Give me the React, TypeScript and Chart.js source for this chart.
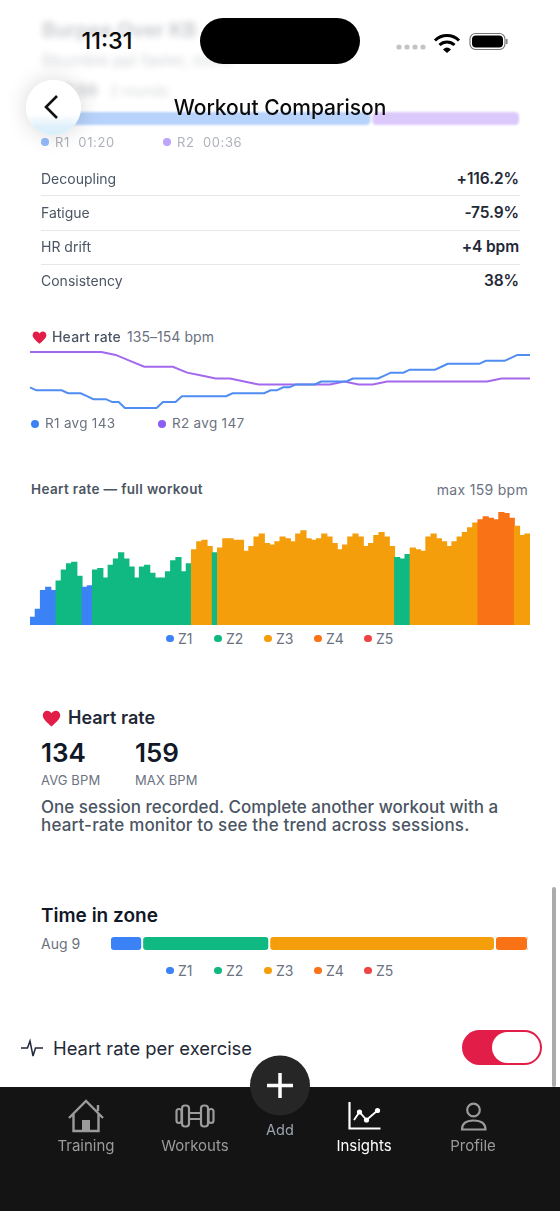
import React, { useEffect, useRef } from "react";
import { Chart, registerables } from "chart.js";

Chart.register(...registerables);

// ---------- data ----------
const r1Hr = [142,141,141,141,141,141,140,140,140,139,138,138,138,137,137,135,135,135,135,135,135,137,137,137,139,139,139,139,139,139,139,139,140,140,140,140,140,140,141,141,142,142,143,143,143,143,144,144,144,144,144,145,145,145,145,145,146,147,147,147,148,148,148,148,148,149,150,150,150,150,150,150,151,151,151,151,152,153,153,153];
const r2Hr = [154,154,154,154,154,154,153,151,149,149,149,147,146,145,145,144,143,143,143,143,143,143,144,143,143,144,144,144,144,144,144,144,144,145,145,145];
const workoutHr = [92,97,109,111,109,115,122,126,127,118,111,112,122,123,117,125,129,133,129,124,117,124,125,120,117,117,121,128,130,121,126,135,140,141,137,133,136,142,142,141,141,134,137,143,145,139,138,140,143,142,140,145,147,142,141,142,145,143,139,135,138,143,145,143,137,139,144,146,143,137,130,129,132,136,135,134,143,145,142,140,137,140,143,146,149,152,154,156,155,154,159,158,155,150,144,145];
const zoneNames = ["Z1","Z2","Z3","Z4","Z5"];
const zoneColors = ["#3b82f6","#10b981","#f59e0b","#f97316","#ef4444"];
const zoneUpperBpm = [114,134,154,172,999];
const timeInZonePct = [7.7,30.4,54,7.9,0];
const sessionLabels = ["Aug 9"];
const roundLabels = ["R1","R2"];
const roundSeconds = [80,36];
const roundBarColors = ["#b7d2fb","#dcc9fb"];
const metricNames = ["Decoupling","Fatigue","HR drift","Consistency"];
const metricValues = ["+116.2%","-75.9%","+4 bpm","38%"];

const FONT = "Inter, 'Noto Sans', sans-serif";

function ChartBox({ left, top, width, height, make, soft }: any) {
  const ref = useRef<HTMLCanvasElement | null>(null);
  useEffect(() => {
    const chart = new Chart(ref.current as HTMLCanvasElement, make());
    return () => chart.destroy();
  }, []);
  return <canvas ref={ref} width={width} height={height} style={{ position: "absolute", left, top, width, height, display: "block", filter: soft ? "blur(0.8px)" : undefined }} />;
}

const baseOptions = {
  animation: false,
  responsive: false,
  maintainAspectRatio: false,
  plugins: { legend: { display: false }, tooltip: { enabled: false } },
  events: [],
};

function T({ x, y, size, weight = 400, color = "#111827", right, center, spacing, children, style }: any) {
  const st: any = {
    position: "absolute", top: y, transform: center ? "translate(-50%,-50%)" : "translateY(-50%)",
    fontSize: size, fontWeight: weight, color, whiteSpace: "nowrap", lineHeight: 1, letterSpacing: spacing, ...style,
  };
  if (right) st.right = 560 - x; else st.left = x;
  return <div style={st}>{children}</div>;
}

function Dot({ x, y, color, r = 4 }: any) {
  return <div style={{ position: "absolute", left: x - r, top: y - r, width: r * 2, height: r * 2, borderRadius: "50%", background: color }} />;
}

function Heart({ x, y, s }: any) {
  return (
    <svg style={{ position: "absolute", left: x - s / 2, top: y - s / 2 }} width={s} height={s} viewBox="0 0 24 24">
      <path d="M12 22 C5 16 1 12.5 1 8 C1 4.5 3.6 2.2 6.6 2.2 C8.8 2.2 10.8 3.4 12 5.4 C13.2 3.4 15.2 2.2 17.4 2.2 C20.4 2.2 23 4.5 23 8 C23 12.5 19 16 12 22 Z" fill="#e11d48" />
    </svg>
  );
}

function ZoneLegend({ y }: any) {
  const xs = [170, 218, 268, 318, 368];
  return (
    <>
      {zoneNames.map((z, i) => (
        <React.Fragment key={z}>
          <Dot x={xs[i]} y={y} color={zoneColors[i]} r={3.7} />
          <T x={xs[i] + 8} y={y} size={14} color="#6b7280">{z}</T>
        </React.Fragment>
      ))}
    </>
  );
}

function zoneColorFor(bpm: number) {
  return zoneColors[zoneUpperBpm.findIndex((u) => bpm < u)];
}

function lineConfig() {
  const toPts = (a: number[]) => a.map((y, i) => ({ x: i / (a.length - 1), y }));
  return {
    type: "line",
    data: {
      datasets: [
        { label: "R1", data: toPts(r1Hr), borderColor: "#4f8df2", borderWidth: 2, pointRadius: 0, tension: 0, clip: false },
        { label: "R2", data: toPts(r2Hr), borderColor: "#a368ee", borderWidth: 2, pointRadius: 0, tension: 0, clip: false },
      ],
    },
    options: {
      ...baseOptions,
      layout: { padding: { left: 10, right: 10, top: 4, bottom: 4 } },
      scales: {
        x: { type: "linear", min: 0, max: 1, display: false },
        y: { min: 135, max: 154, display: false },
      },
    },
  };
}

function workoutConfig() {
  return {
    type: "bar",
    data: {
      labels: workoutHr.map((_, i) => String(i)),
      datasets: [{ data: workoutHr, backgroundColor: workoutHr.map(zoneColorFor), barPercentage: 1, categoryPercentage: 1, borderWidth: 0, inflateAmount: 0.5 }],
    },
    options: {
      ...baseOptions,
      layout: { padding: { top: 1 } },
      scales: { x: { display: false }, y: { min: 87, max: 159, display: false } },
    },
  };
}

function stackedConfig(labels: string[], names: string[], values: number[], colors: string[], r: number) {
  return {
    type: "bar",
    data: {
      labels,
      datasets: names.map((n, i) => ({
        label: n,
        data: [values[i]],
        backgroundColor: colors[i],
        borderColor: "#ffffff",
        borderWidth: { left: 1.3, right: 1.3, top: 0, bottom: 0 },
        borderSkipped: false,
        borderRadius: { topLeft: r, topRight: r, bottomLeft: r, bottomRight: r },
        barPercentage: 1,
        categoryPercentage: 1,
      })),
    },
    options: {
      ...baseOptions,
      indexAxis: "y",
      scales: {
        x: { stacked: true, min: 0, max: values.reduce((a, b) => a + b, 0), display: false },
        y: { stacked: true, display: false },
      },
    },
  };
}

export default function App() {
  useEffect(() => {
    document.body.style.margin = "0";
    document.body.style.background = "#fff";
  }, []);
  const gray = "#9b9b9b";
  return (
    <div style={{ position: "absolute", left: 0, top: 0, width: 560, height: 1211, overflow: "hidden", background: "#fff", fontFamily: FONT, filter: "blur(0.35px)" }}>
      {/* blurred content scrolled under header */}
      <div style={{ position: "absolute", inset: 0, filter: "blur(3px)", opacity: 0.22 }}>
        <T x={42} y={30} size={20} weight={700}>Burpee Over KB</T>
        <T x={42} y={60} size={16} color="#374151">Bbumble ppl faster, more</T>
        <T x={65} y={90} size={16} weight={700}>1:56</T>
        <T x={110} y={91} size={14} color="#374151">2 rounds</T>
      </div>

      <ChartBox soft left={41} top={112} width={479} height={13} make={() => stackedConfig(["Rounds"], roundLabels, roundSeconds, roundBarColors, 5.5)} />

      <div style={{ opacity: 0.55, filter: "blur(0.5px)" }}>
        <Dot x={45} y={142} color="#3b82f6" r={3.7} />
        <T x={55} y={142} size={13} color="#6b7280" spacing={0.6}>R1&nbsp; 01:20</T>
        <Dot x={167} y={142} color="#8b5cf6" r={3.7} />
        <T x={177} y={142} size={13} color="#6b7280" spacing={0.6}>R2&nbsp; 00:36</T>
      </div>

      {/* status bar */}
      <T x={107} y={41} size={23.5} weight={500} color="#0b0b0b" center>11:31</T>
      <div style={{ position: "absolute", left: 200, top: 18, width: 160, height: 46, borderRadius: 23, background: "#000" }} />
      <svg style={{ position: "absolute", left: 0, top: 0 }} width={560} height={110} viewBox="0 0 560 110">
        {[399, 407, 415, 423].map((x) => <circle key={x} cx={x} cy={47} r={2.6} fill="#c4c4c4" />)}
        <path d="M435 40.5 A17 17 0 0 1 459 40.5" fill="none" stroke="#000" strokeWidth="3" />
        <path d="M439.5 45 A11 11 0 0 1 454.5 45" fill="none" stroke="#000" strokeWidth="3" />
        <path d="M443 49.5 Q447 45.5 451 49.5 L447 53 Z" fill="#000" />
        <rect x={470} y={33.5} width={35} height={16} rx={5.5} fill="none" stroke="#777" strokeWidth="1.2" />
        <rect x={472} y={35.5} width={31} height={12} rx={4} fill="#000" />
        <rect x={506} y={39} width={1.6} height={5} fill="#888" />
      </svg>

      {/* nav */}
      <div style={{ position: "absolute", left: 26, top: 80, width: 55, height: 55, borderRadius: "50%", background: "linear-gradient(#fff 0%, #fff 62%, #dff0fb 85%, #d9eefb 100%)", boxShadow: "0 0 22px rgba(0,0,0,0.16)" }} />
      <svg style={{ position: "absolute", left: 40, top: 92 }} width={24} height={30} viewBox="0 0 24 30">
        <path d="M17 4 L6 15 L17 26" fill="none" stroke="#111" strokeWidth="2.6" />
      </svg>
      <T x={280} y={107} size={21} weight={500} color="#0b0b0b" center>Workout Comparison</T>

      {/* metrics */}
      {metricNames.map((m, i) => (
        <React.Fragment key={m}>
          <T x={41} y={178.5 + i * 34.2} size={14} color="#4b5563">{m}</T>
          <T x={519} y={178.5 + i * 34.2} size={15.5} weight={600} color="#1f2937" right style={{ letterSpacing: -0.1 }}>{metricValues[i]}</T>
          {i < 3 && <div style={{ position: "absolute", left: 41, width: 479, top: 195 + i * 34.5, height: 1, background: "#e5e7eb" }} />}
        </React.Fragment>
      ))}

      {/* comparison line chart */}
      <Heart x={39} y={337} s={15} />
      <T x={52} y={337} size={14} weight={500} color="#4b5563" spacing={0.2}>Heart rate</T>
      <T x={127} y={337} size={14} color="#6b7280" spacing={0.05}>135–154 bpm</T>
      <ChartBox left={20} top={348} width={520} height={64} make={lineConfig} />
      <Dot x={35} y={424} color="#3b82f6" />
      <T x={45} y={424} size={13.5} color="#6b7280" spacing={0.3}>R1 avg 143</T>
      <Dot x={162} y={424} color="#8b5cf6" />
      <T x={172} y={424} size={13.5} color="#6b7280" spacing={0.3}>R2 avg 147</T>

      {/* full workout */}
      <T x={31} y={490} size={13.5} weight={600} color="#4b5563" spacing={0.35}>Heart rate — full workout</T>
      <T x={528} y={490} size={14} color="#6b7280" right spacing={0.3}>max 159 bpm</T>
      <ChartBox left={30} top={511} width={500} height={114} make={workoutConfig} />
      <ZoneLegend y={638.5} />

      {/* heart rate summary */}
      <Heart x={51} y={718} s={19} />
      <T x={68} y={718} size={18} weight={600} color="#1f2937">Heart rate</T>
      <T x={41} y={753} size={26} weight={600} color="#111827">134</T>
      <T x={135} y={753} size={26} weight={600} color="#111827">159</T>
      <T x={41} y={780} size={13} color="#6b7280" spacing={0.1}>AVG BPM</T>
      <T x={135} y={780} size={13} color="#6b7280" spacing={0.1}>MAX BPM</T>
      <T x={41} y={807} size={17} weight={500} color="#4b5563">One session recorded. Complete another workout with a</T>
      <T x={41} y={825} size={17} weight={500} color="#4b5563" spacing={0.15}>heart-rate monitor to see the trend across sessions.</T>

      {/* time in zone */}
      <T x={41} y={915} size={19} weight={600} color="#111827">Time in zone</T>
      <T x={41} y={944} size={14} color="#6b7280">{sessionLabels[0]}</T>
      <ChartBox left={110} top={937} width={418} height={13} make={() => stackedConfig(sessionLabels, zoneNames, timeInZonePct, zoneColors, 4.5)} />
      <ZoneLegend y={970.5} />

      {/* toggle row */}
      <svg style={{ position: "absolute", left: 20, top: 1036 }} width={24} height={24} viewBox="0 0 24 24">
        <path d="M1 12 H7.5 L10 5 L13 20 L15.5 12 H23" fill="none" stroke="#1f2937" strokeWidth="1.5" />
      </svg>
      <T x={53} y={1048} size={18.4} color="#1f2937">Heart rate per exercise</T>
      <div style={{ position: "absolute", left: 462, top: 1030, width: 80, height: 35, borderRadius: 18, background: "#e11d48" }} />
      <div style={{ position: "absolute", left: 492, top: 1032, width: 48, height: 31, borderRadius: 16, background: "#fff" }} />

      {/* scrollbar */}
      <div style={{ position: "absolute", left: 552, top: 887, width: 3.5, height: 200, borderRadius: 2, background: "#ababab" }} />

      {/* tab bar */}
      <div style={{ position: "absolute", left: 0, top: 1087, width: 560, height: 124, background: "#141414" }} />
      <svg style={{ position: "absolute", left: 0, top: 0 }} width={560} height={1211} viewBox="0 0 560 1211">
        <circle cx={280} cy={1085.5} r={30} fill="#262626" />
        <path d="M267 1085.5 H293 M280 1073 V1098" stroke="#fff" strokeWidth="3.5" />
        {/* home */}
        <path d="M69 1118 L86 1101 L103 1118 M73.5 1114 V1131 H98.5 V1114 M98 1105 V1111" fill="none" stroke={gray} strokeWidth="2.4" />
        <rect x={82} y={1120} width={8} height={11} fill={gray} />
        {/* dumbbell */}
        <g fill="none" stroke={gray} strokeWidth="2.2">
          <rect x={176.5} y={1109} width={5} height={14} rx={2.5} />
          <rect x={182} y={1105.5} width={7} height={21} rx={3} />
          <rect x={201} y={1105.5} width={7} height={21} rx={3} />
          <rect x={208.5} y={1109} width={5} height={14} rx={2.5} />
          <path d="M189 1113 H201 M189 1119 H201" />
        </g>
        {/* insights */}
        <path d="M349.5 1102 V1128.5 H380.5" fill="none" stroke="#fff" strokeWidth="2.2" />
        <path d="M354 1120 L359.5 1112 L366.5 1120 L377.5 1110.5" fill="none" stroke="#fff" strokeWidth="1.8" />
        <circle cx={359.5} cy={1112} r={2.6} fill="#fff" />
        <circle cx={366.5} cy={1120} r={2.6} fill="#fff" />
        <circle cx={377.5} cy={1110.5} r={2.6} fill="#fff" />
        {/* profile */}
        <circle cx={473.5} cy={1110} r={6.3} fill="none" stroke={gray} strokeWidth="2.2" />
        <path d="M462 1129.5 Q462 1120.5 473.5 1120.5 Q485.5 1120.5 485.5 1129.5 Z" fill="none" stroke={gray} strokeWidth="2.2" />
      </svg>
      <T x={280} y={1130} size={14.5} color="#9ca3af" center>Add</T>
      <T x={86} y={1145} size={15} color="#9b9b9b" center>Training</T>
      <T x={195} y={1145} size={15} color="#9b9b9b" center>Workouts</T>
      <T x={364} y={1145} size={15} color="#ffffff" center>Insights</T>
      <T x={473} y={1145} size={15} color="#9b9b9b" center>Profile</T>
    </div>
  );
}
